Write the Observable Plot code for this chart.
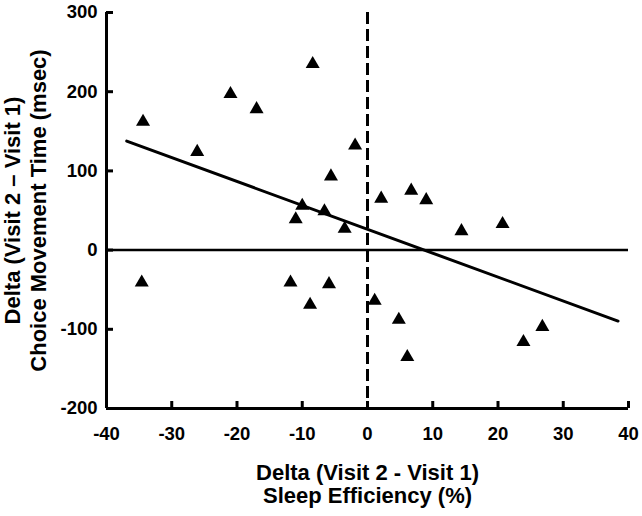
<!DOCTYPE html>
<html>
<head>
<meta charset="utf-8">
<script src="https://cdn.jsdelivr.net/npm/d3@7"></script>
<script src="https://cdn.jsdelivr.net/npm/@observablehq/plot@0.6"></script>
<style>
  html, body { margin: 0; padding: 0; background: #fff; }
</style>
</head>
<body>
<div id="chart"></div>
<script>
// Delta sleep efficiency (%) per subject
const sleepEff = [-34.4, -26.1, -21.0, -17.0, -8.4, -1.9, -5.6, -10.0, -11.0, -6.6, -3.5,
                  2.1, 6.7, 9.0, 14.4, 20.7,
                  -34.6, -11.8, -8.8, -5.9,
                  1.1, 4.8, 6.1, 23.9, 26.8];
// Delta choice movement time (msec) per subject
const moveTime = [162, 124, 197, 178, 235, 132, 93, 56, 39, 49, 27,
                  65, 75, 63, 24, 33,
                  -41, -41, -69, -43,
                  -64, -88, -135, -116, -97];
// Regression line end points
const fitX = [-36.9, 38.4];
const fitY = [137.6, -89.6];
// Axis ticks
const xTicks = [-40, -30, -20, -10, 0, 10, 20, 30, 40];
const yTicks = [-200, -100, 0, 100, 200, 300];
const xTitle = ["Delta (Visit 2 - Visit 1)", "Sleep Efficiency (%)"];
const yTitle = ["Delta (Visit 2 \u2013 Visit 1)", "Choice Movement Time (msec)"];

const points = sleepEff.map((x, i) => ({x, y: moveTime[i]}));
const fit = fitX.map((x, i) => ({x, y: fitY[i]}));
const fmt = d => String(d);

const chart = Plot.plot({
  width: 642,
  height: 516,
  marginLeft: 106,
  marginRight: 14,
  marginTop: 12,
  marginBottom: 108,
  style: {fontFamily: "'Liberation Sans', Arial, sans-serif", fontWeight: "bold", fontSize: "18px", color: "#000", background: "#fff"},
  x: {domain: [-40, 40], ticks: xTicks, label: null},
  y: {domain: [-200, 300], ticks: yTicks, label: null},
  marks: [
    // inward tick marks
    Plot.axisX(xTicks, {tickSize: 7, dy: -7, text: null, strokeWidth: 3}),
    Plot.axisY(yTicks, {tickSize: 7, dx: 7, text: null, strokeWidth: 3}),
    // tick labels
    Plot.axisX(xTicks, {tickSize: 0, tickPadding: 18, fontSize: 18.5, fontWeight: "bold", tickFormat: fmt, label: null}),
    Plot.axisY(yTicks, {tickSize: 0, tickPadding: 9, fontSize: 18.5, fontWeight: "bold", tickFormat: fmt, label: null}),
    // zero reference lines
    Plot.ruleY([0], {strokeWidth: 2.5}),
    Plot.ruleX([0], {strokeWidth: 3, strokeDasharray: "12,5"}),
    // axis lines
    Plot.ruleX([-40], {strokeWidth: 3}),
    Plot.ruleY([-200], {strokeWidth: 3}),
    // regression line
    Plot.line(fit, {x: "x", y: "y", strokeWidth: 3}),
    // data points
    Plot.dot(points, {x: "x", y: "y", symbol: "triangle", r: 5.2, fill: "#000", stroke: null}),
    // axis titles
    Plot.text([xTitle[0]], {frameAnchor: "bottom", dy: 71, fontSize: 22, fontWeight: "bold", textAnchor: "middle", text: d => d}),
    Plot.text([xTitle[1]], {frameAnchor: "bottom", dy: 94, fontSize: 22, fontWeight: "bold", textAnchor: "middle", text: d => d}),
    Plot.text([yTitle[0]], {frameAnchor: "left", dx: -94, rotate: -90, fontSize: 22, fontWeight: "bold", textAnchor: "middle", text: d => d}),
    Plot.text([yTitle[1]], {frameAnchor: "left", dx: -68, rotate: -90, fontSize: 22, fontWeight: "bold", textAnchor: "middle", text: d => d})
  ]
});
document.getElementById("chart").appendChild(chart);
</script>
</body>
</html>
